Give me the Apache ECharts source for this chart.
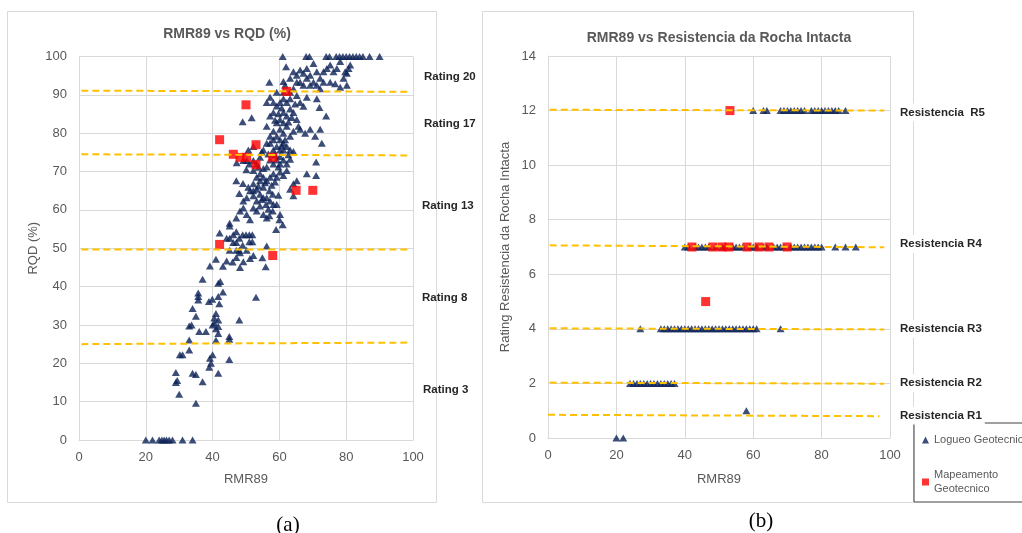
<!DOCTYPE html>
<html>
<head>
<meta charset="utf-8">
<script src="https://cdn.jsdelivr.net/npm/echarts@6/dist/echarts.min.js"></script>
<style>
html,body{margin:0;padding:0;background:#fff;}
#chart{width:1022px;height:533px;}
</style>
</head>
<body>
<div id="chart"></div>
<script>
// ---------- DATA ----------
const titleA = 'RMR89 vs RQD (%)';
const titleB = 'RMR89 vs Resistencia da Rocha Intacta';
const xAxisName = 'RMR89';
const yNameA = 'RQD (%)';
const yNameB = 'Rating Resistencia da Rocha Intacta';
const seriesNames = ['Logueo Geotecnico', 'Mapeamento Geotecnico'];

// Panel (a): RMR89 vs RQD, logging points [RMR89, RQD]
const rqdLogueo = [
  [20,0],[22,0],[24,0],[24.8,0],[25.5,0],[26.2,0],[27,0],[28,0],[31,0],[34,0],
  [35,9.6],[30,11.9],[29,15],[29.4,15.5],[29,17.6],[34,17.4],[35,17.1],[37,15.2],[41.7,17.4],
  [39,19],[39.2,21.3],[40,22.2],[39.5,20],[45,21],[30.2,22.2],[31,22.2],[33,23.5],[33,26.1],
  [45,26.3],[45,27],[41,26],[33,29.7],[33.7,30],[36,28.3],[38,28.3],[41.7,29.6],[41.7,31.3],[41.7,27.8],[40.5,30.5],[41,29],
  [34,34.3],[35,32.3],[35.7,36.5],[35.7,37.4],[35.7,38.3],[38.9,36.1],[39.9,36.7],[41.7,37.4],[41,33],[42,35.5],[37,41.9],[39.2,45.4],[41,47.1],[41.7,40.9],[42.3,41.3],[43.1,38.6],[48,31.3],[53,37.2],[40,30],[40.5,31.8],
  [42.1,54],[43.1,45.3],[44.2,46.7],[45.1,49.5],[45.1,52.6],[44.2,52.6],[46.2,51.5],[47.1,51.5],[46.2,53.5],[45.1,56.5],[45.1,55.8],[47.1,54.3],[48,52.6],[49,53.5],[50,53.5],[51,51.7],[51,53.5],[51.9,53.5],[51.9,51.7],[50.2,49.5],[48.2,48.8],[47.1,47.6],[48.2,45],[49.2,46.5],[51.2,47.3],[52.2,48.1],[46,46.4],[56.2,50.6],[54.9,47.5],[55.9,45.2],[59,54.9],[61,56.1],[60,57.4],[49,50.8],[48,49.5],[47.1,49.5],
  [47.1,57.9],[48.2,59.7],[49.2,60.5],[50.2,58.8],[51.2,57.4],[52.2,60.5],[53.2,59.7],[54.2,61],[49.2,62.3],[48,64.3],[49.1,66.9],[47.1,67.6],[50.2,63.2],[51.2,65],[52.2,63.7],[53.2,65.4],[50.7,65.9],[55.2,65.9],[56,61.4],[56.2,63.2],[57,65],[58,64.1],[58,59.7],[57,58.5],[55.2,58.8],[57.2,62.3],[58.2,61.4],[56.2,57.9],[59.2,61.4],[60.2,58.8],[52.2,66.8],[53.2,68.5],[54.2,69.4],[54.2,67.6],[55.2,68.5],[56.2,67.6],[57.2,68.5],[58.2,69.4],[59.2,68.5],[60.2,69.9],[61.2,69],[62.2,70.3],[63.2,65.4],[64.2,66.8],[64.2,63.7],[65.2,67.6],[68.2,69.4],[71,69],[52.2,65],[55.2,63.2],[53.2,62.3],[54.2,64.1],
  [53.7,66.2],[55.7,67.1],[57.7,66.4],[56.7,60.2],[54.7,62.7],[59.7,63.8],[58.7,67.3],
  [50.1,70.5],[51,72],[52.2,70.3],[53.2,72],[54.2,73.7],[55.2,75.6],[56.2,77.4],[55.2,70.8],[56.2,71.2],[57.2,73],[58.2,72],[59.2,73],[60.2,73.9],[61.2,73],[62.2,72],[63.2,73.2],[64.2,75.2],[62.2,76.5],[61.7,78.3],[63.2,79.2],[60.2,75.6],[59.2,76.5],[58.2,75.6],[57.2,77.4],[57.2,79.2],[58.2,78.3],[59.2,79.2],[60.2,78.3],[61.2,77.4],[61.2,75.6],[60.2,72],[63.2,75.6],[70.7,79.2],[72.7,77.4],[71,72.5],[49.2,72.9],[52.2,72.9],[50.2,72.9],[50.7,75.6],[52.2,76.5],[47.2,72.3],
  [53.7,71.1],[56.7,74.6],[58.7,74.3],[60.7,76.8],[59.7,71.2],[54.7,75.1],[62.7,74.4],
  [58.2,80.5],[59.2,82.7],[56.2,81.8],[57.2,84.5],[58.2,85.4],[56.2,88],[57.2,89.4],[59.2,90.7],[60.2,81],[61.2,82.7],[62.2,81.8],[61.2,80],[60.2,83.6],[61.2,85.4],[62.2,84.5],[63.2,86.3],[64.2,85.4],[64.7,87.6],[64.2,80.5],[65.7,81.8],[65.2,83.6],[66.2,88],[67.2,87],[68.2,89.4],[69.2,81],[67.7,80],[66.2,81],[72.2,81],[72,86.7],[74,84.5],[71.2,89],[60.2,88],[61.2,89],[62.2,88],[63.2,89],[59.2,87.1],[58.2,88],[49,83],[51.7,84],[61.2,90.7],[63.2,90.7],[65.2,89.8],
  [59.7,85.1],[62.7,82.9],[60.7,86.6],[63.7,84.1],[58.7,83.4],
  [57,93.3],[61.7,92.5],[61.2,93.5],[62,97.3],[63.2,94.3],[64.2,96],[65.2,95.1],[66.2,96.5],[66.2,93.3],[67.2,95.6],[67.2,92.5],[68.2,96.9],[68.2,94.3],[69.2,95.1],[70.2,98.2],[70.2,93.3],[71.2,96],[71.2,92.5],[72.2,94.3],[73.2,96],[73.2,93.3],[74.2,96.9],[75.2,97.8],[76.2,96],[77.2,96.9],[78.2,92],[79.2,94.3],[80.2,92.5],[79.7,96],[80.7,96.9],[81.2,97.8],[78.2,98.7],[75.2,93.3],[72.2,91.6],[64.2,91.6],[65.2,93.3],[69.2,92.5],[76.7,92.9],[80.2,95.6],
  [61,100],[68,100],[69,100],[74,100],[75,100],[77,100],[78,100],[79,100],[80,100],[81,100],[82,100],[83,100],[84,100],[85,100],[87,100],[90,100]
];
// Panel (a): mapping points [RMR89, RQD]
const rqdMapeamento = [
  [42.1,78.3],[46.2,74.5],[48.2,73.7],[50.2,73.7],[50,87.4],[53,77],[53,71.8],[58,73.7],[62.2,90.9],[65,65.1],[70,65.1],[42.1,51],[58,48.1]
];
// Panel (a): RQD class boundaries (dashed), [start, end] points
const rqdBoundaries = [
  [[0.7,91.1],[99.2,90.8]],
  [[0.7,74.5],[99.2,74.2]],
  [[0.7,49.7],[99.2,49.7]],
  [[0.7,25.0],[99.2,25.4]]
];
const ratingLabels = ['Rating 20','Rating 17','Rating 13','Rating 8','Rating 3'];

// Panel (b): logging points grouped by strength rating
const ratingLevels = [12, 7, 4, 2, 1, 0];
const rmrAtRating12 = [60,63,64,68,69,70,71,72,73,74,75,77,78,79,80,81,82,83,84,85,87];
const rmrAtRating7 = [40,41,43,44,45,46,47,49,51,52,54,55,56,57,59,60,61,63,64,66,67,68,69,71,72,73,74,75,76,77,78,79,80,84,87,90];
const rmrAtRating4 = [27,33,34,35,36,37,38,39,40,41,42,43,44,45,46,47,48,49,50,51,52,53,54,55,56,57,58,59,60,61,68];
const rmrAtRating2 = [24,25,26,27,28,29,30,31,32,33,34,35,36,37];
const rmrAtRating1 = [58];
const rmrAtRating0 = [20,22];
// Panel (b): mapping points [RMR89, rating]
const rockMapeamento = [[53.2,12],[42.1,7],[48.2,7],[50.9,7],[52.9,7],[58.2,7],[61.7,7],[64.6,7],[69.9,7],[46.1,5]];
// Panel (b): strength class lines (dashed)
const rockBoundaries = [
  [[0.5,12.03],[98.3,12.0]],
  [[0.5,7.06],[98.3,6.99]],
  [[0.5,4.02],[98.3,3.98]],
  [[0.5,2.03],[98.3,1.99]],
  [[0,0.85],[96.9,0.8]]
];
const resistLabels = ['Resistencia  R5','Resistencia R4','Resistencia R3','Resistencia R2','Resistencia R1'];

// ---------- BUILD ----------
const rockLogueo = [].concat(
  rmrAtRating12.map(x => [x, ratingLevels[0]]),
  rmrAtRating7.map(x => [x, ratingLevels[1]]),
  rmrAtRating4.map(x => [x, ratingLevels[2]]),
  rmrAtRating2.map(x => [x, ratingLevels[3]]),
  rmrAtRating1.map(x => [x, ratingLevels[4]]),
  rmrAtRating0.map(x => [x, ratingLevels[5]])
);

const FONT = 'Liberation Sans, Arial, sans-serif';
const NAVY = '#0b2156';
const RED = '#ff0000';
const GOLD = '#ffc000';
const GRID_C = '#d9d9d9';
const TXT = '#595959';

function axisCommon() {
  return {
    axisLine: { show: true, lineStyle: { color: GRID_C } },
    axisTick: { show: false },
    splitLine: { show: true, lineStyle: { color: GRID_C, width: 1 } },
    axisLabel: { color: TXT, fontSize: 13, fontFamily: FONT },
    nameTextStyle: { color: TXT, fontSize: 13, fontFamily: FONT }
  };
}

function lineSeries(pts, gi) {
  return {
    type: 'line', xAxisIndex: gi, yAxisIndex: gi, data: pts,
    symbol: 'none', silent: true, z: 5,
    lineStyle: { color: GOLD, width: 2, type: [7, 4] }
  };
}

const series = [
  { name: seriesNames[0], type: 'scatter', xAxisIndex: 0, yAxisIndex: 0, data: rqdLogueo,
    symbol: 'triangle', symbolSize: [8, 7], itemStyle: { color: NAVY }, z: 3 },
  { name: seriesNames[1], type: 'scatter', xAxisIndex: 0, yAxisIndex: 0, data: rqdMapeamento,
    symbol: 'rect', symbolSize: 9, itemStyle: { color: RED }, z: 4 },
  { name: seriesNames[0], type: 'scatter', xAxisIndex: 1, yAxisIndex: 1, data: rockLogueo,
    symbol: 'triangle', symbolSize: [8, 7], itemStyle: { color: NAVY }, z: 3 },
  { name: seriesNames[1], type: 'scatter', xAxisIndex: 1, yAxisIndex: 1, data: rockMapeamento,
    symbol: 'rect', symbolSize: 9, itemStyle: { color: RED }, z: 4 }
];
rqdBoundaries.forEach(p => series.push(lineSeries(p, 0)));
rockBoundaries.forEach(p => series.push(lineSeries(p, 1)));

const graphics = [
  { type: 'rect', z: -10, shape: { x: 7.5, y: 11.5, width: 429, height: 491 }, style: { fill: '#fff', stroke: GRID_C, lineWidth: 1 } },
  { type: 'rect', z: -10, shape: { x: 482.5, y: 11.5, width: 431, height: 491 }, style: { fill: '#fff', stroke: GRID_C, lineWidth: 1 } }
];
const ratingY = [76.5, 124, 206, 297.5, 389.5];
const ratingX = [424, 424, 422, 422, 423];
ratingLabels.forEach((t, i) => graphics.push({
  type: 'text', z: 100, x: ratingX[i], y: ratingY[i],
  style: { text: t, font: 'bold 11.5px ' + FONT, fill: '#262626', align: 'left', verticalAlign: 'middle' }
}));
const resistY = [112.5, 244, 329, 383, 415.5];
resistLabels.forEach((t, i) => graphics.push({
  type: 'text', z: 100, x: 897, y: resistY[i],
  style: { text: t, font: 'bold 11.5px ' + FONT, fill: '#262626', align: 'left', verticalAlign: 'middle',
           backgroundColor: '#fff', padding: [3, 3, 3, 3] }
}));
graphics.push({ type: 'text', z: 100, x: 288, y: 525, style: { text: '(a)', font: '21px Liberation Serif, serif', fill: '#000', align: 'center', verticalAlign: 'middle' } });
graphics.push({ type: 'text', z: 100, x: 761, y: 521, style: { text: '(b)', font: '21px Liberation Serif, serif', fill: '#000', align: 'center', verticalAlign: 'middle' } });

const option = {
  animation: false,
  backgroundColor: '#fff',
  title: [
    { text: titleA, left: 222, top: 22, textAlign: 'center',
      textStyle: { color: TXT, fontSize: 14, fontWeight: 'bold', fontFamily: FONT } },
    { text: titleB, left: 714, top: 26, textAlign: 'center',
      textStyle: { color: TXT, fontSize: 14, fontWeight: 'bold', fontFamily: FONT } }
  ],
  legend: {
    data: [{ name: seriesNames[0], icon: 'triangle' }, { name: seriesNames[1], icon: 'rect' }],
    orient: 'vertical', left: 914, top: 423,
    borderColor: '#404040', borderWidth: 1,
    padding: [10, 40, 6, 8], itemGap: 21, itemWidth: 7, itemHeight: 7,
    selectedMode: false,
    formatter: n => n === seriesNames[1] ? 'Mapeamento\nGeotecnico' : n,
    textStyle: { color: TXT, fontSize: 11, lineHeight: 14, fontFamily: FONT }
  },
  grid: [
    { left: 79, top: 56.5, width: 334, bottom: 93, containLabel: false },
    { left: 548, top: 56, width: 342, bottom: 95, containLabel: false }
  ],
  xAxis: [
    Object.assign(axisCommon(), { type: 'value', gridIndex: 0, min: 0, max: 100, interval: 20,
      name: xAxisName, nameLocation: 'middle', nameGap: 33 }),
    Object.assign(axisCommon(), { type: 'value', gridIndex: 1, min: 0, max: 100, interval: 20,
      name: xAxisName, nameLocation: 'middle', nameGap: 35 })
  ],
  yAxis: [
    Object.assign(axisCommon(), { type: 'value', gridIndex: 0, min: 0, max: 100, interval: 10,
      name: yNameA, nameLocation: 'middle', nameGap: 39 }),
    Object.assign(axisCommon(), { type: 'value', gridIndex: 1, min: 0, max: 14, interval: 2,
      name: yNameB, nameLocation: 'middle', nameGap: 36 })
  ],
  graphic: graphics,
  series: series
};
option.xAxis.forEach(a => { a.axisLabel.margin = 11; });
option.yAxis.forEach(a => { a.axisLabel.margin = 12; });

const chart = echarts.init(document.getElementById('chart'), null, { renderer: 'canvas' });
chart.setOption(option);
</script>
</body>
</html>
